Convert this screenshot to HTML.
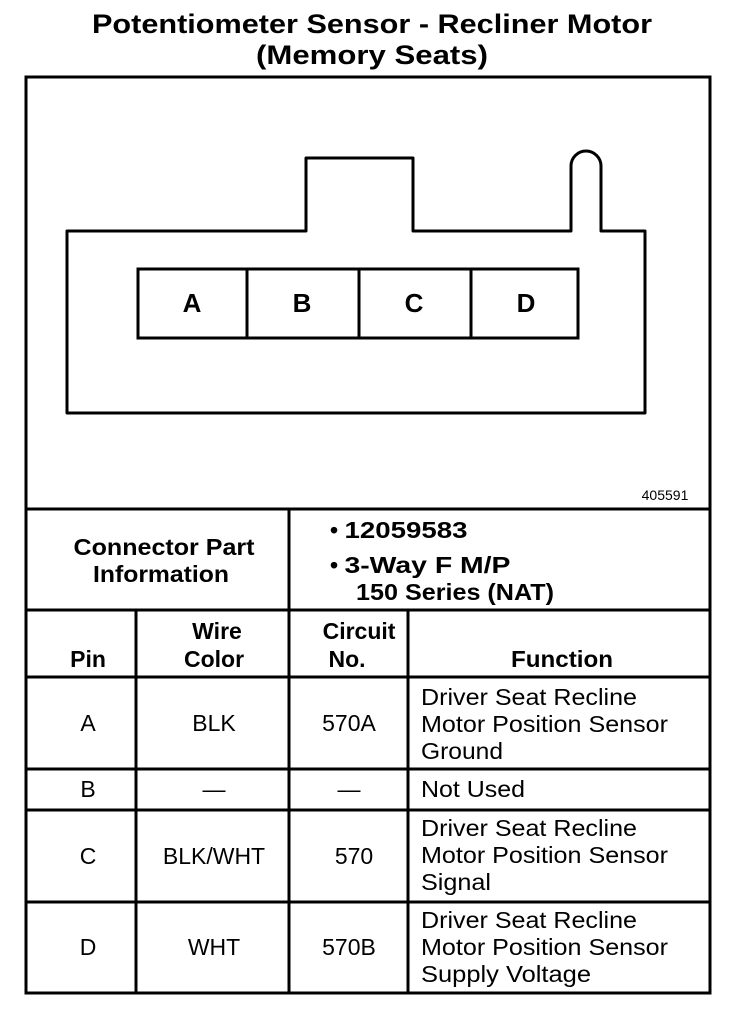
<!DOCTYPE html>
<html><head><style>
html,body{margin:0;padding:0;background:#fff;}
svg{display:block;}
text{font-family:"Liberation Sans",Arial,sans-serif;fill:#000;}
.b{font-weight:bold;}
</style></head><body>
<svg width="752" height="1012" viewBox="0 0 752 1012" xmlns="http://www.w3.org/2000/svg">
<text x="372" y="33" text-anchor="middle" class="b" font-size="27" textLength="560" lengthAdjust="spacingAndGlyphs">Potentiometer Sensor - Recliner Motor</text>
<text x="372" y="64" text-anchor="middle" class="b" font-size="27" textLength="232" lengthAdjust="spacingAndGlyphs">(Memory Seats)</text>
<g fill="none" stroke="#000" stroke-width="3">
<rect x="26" y="77" width="684" height="916"/>
<line x1="26" y1="509" x2="710" y2="509"/>
<line x1="26" y1="610" x2="710" y2="610"/>
<line x1="26" y1="677" x2="710" y2="677"/>
<line x1="26" y1="769" x2="710" y2="769"/>
<line x1="26" y1="810" x2="710" y2="810"/>
<line x1="26" y1="902" x2="710" y2="902"/>
<line x1="289" y1="509" x2="289" y2="993"/>
<line x1="136" y1="610" x2="136" y2="993"/>
<line x1="408" y1="610" x2="408" y2="993"/>
<path d="M67 231 H306 V158 H413 V231 H571 V166 A15 15 0 0 1 601 166 V231 H645 V413 H67 Z" stroke-linejoin="round"/>
<rect x="138" y="269" width="440" height="69"/>
<line x1="247" y1="269" x2="247" y2="338"/>
<line x1="359" y1="269" x2="359" y2="338"/>
<line x1="471" y1="269" x2="471" y2="338"/>
</g>
<g font-size="26" class="b" text-anchor="middle">
<text x="192" y="312">A</text><text x="302" y="312">B</text><text x="414" y="312">C</text><text x="526" y="312">D</text>
</g>
<text x="665" y="500" font-size="14" text-anchor="middle">405591</text>
<g class="b" font-size="23">
<text x="164" y="555" text-anchor="middle" textLength="181" lengthAdjust="spacingAndGlyphs">Connector Part</text>
<text x="161" y="582" text-anchor="middle" textLength="136" lengthAdjust="spacingAndGlyphs">Information</text>
<text x="330" y="538">• <tspan textLength="123" lengthAdjust="spacingAndGlyphs">12059583</tspan></text>
<text x="330" y="573">• <tspan textLength="166" lengthAdjust="spacingAndGlyphs">3-Way F M/P</tspan></text>
<text x="356" y="600" textLength="198" lengthAdjust="spacingAndGlyphs">150 Series (NAT)</text>
<text x="217" y="639" text-anchor="middle">Wire</text>
<text x="359" y="639" text-anchor="middle">Circuit</text>
<text x="88" y="667" text-anchor="middle">Pin</text>
<text x="214" y="667" text-anchor="middle">Color</text>
<text x="347" y="667" text-anchor="middle">No.</text>
<text x="562" y="667" text-anchor="middle" textLength="102" lengthAdjust="spacingAndGlyphs">Function</text>
</g>
<g font-size="23">
<g text-anchor="middle">
<text x="88" y="731">A</text><text x="214" y="731">BLK</text><text x="349" y="731">570A</text>
<text x="88" y="797">B</text><text x="214" y="797">—</text><text x="349" y="797">—</text>
<text x="88" y="864">C</text><text x="214" y="864">BLK/WHT</text><text x="354" y="864">570</text>
<text x="88" y="955">D</text><text x="214" y="955">WHT</text><text x="349" y="955">570B</text>
</g>
<text x="421" y="705" textLength="216" lengthAdjust="spacingAndGlyphs">Driver Seat Recline</text>
<text x="421" y="732" textLength="247" lengthAdjust="spacingAndGlyphs">Motor Position Sensor</text>
<text x="421" y="759" textLength="82" lengthAdjust="spacingAndGlyphs">Ground</text>
<text x="421" y="797" textLength="104" lengthAdjust="spacingAndGlyphs">Not Used</text>
<text x="421" y="836" textLength="216" lengthAdjust="spacingAndGlyphs">Driver Seat Recline</text>
<text x="421" y="863" textLength="247" lengthAdjust="spacingAndGlyphs">Motor Position Sensor</text>
<text x="421" y="890" textLength="70" lengthAdjust="spacingAndGlyphs">Signal</text>
<text x="421" y="928" textLength="216" lengthAdjust="spacingAndGlyphs">Driver Seat Recline</text>
<text x="421" y="955" textLength="247" lengthAdjust="spacingAndGlyphs">Motor Position Sensor</text>
<text x="421" y="982" textLength="170" lengthAdjust="spacingAndGlyphs">Supply Voltage</text>
</g>
</svg>
</body></html>
